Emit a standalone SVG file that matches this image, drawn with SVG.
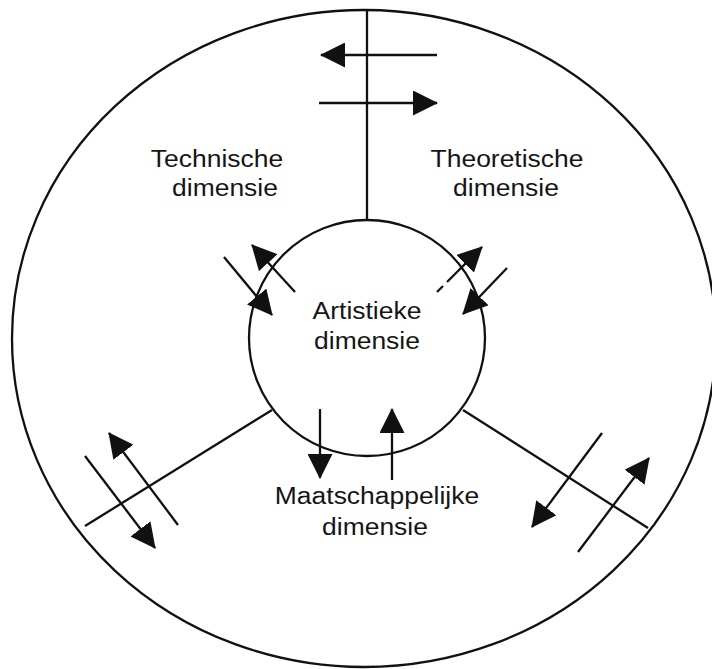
<svg xmlns="http://www.w3.org/2000/svg" width="712" height="669" viewBox="0 0 712 669">
<style>
.ln{stroke:#111;stroke-width:2.3;fill:none;stroke-linecap:butt}
.ar{stroke:#111;stroke-width:2.3;fill:none;marker-end:url(#ah)}
.lbl{font-family:"Liberation Sans",Arial,sans-serif;font-size:24.5px;fill:#151515;text-anchor:middle}
</style>
<defs>
<marker id="ah" viewBox="0 0 25 25" refX="24" refY="12.5" markerWidth="25" markerHeight="25" markerUnits="userSpaceOnUse" orient="auto">
<path d="M0,0 L25,12.5 L0,25 z" fill="#111"/>
</marker>
</defs>
<rect width="712" height="669" fill="#fff"/>
<g id="outer">
<ellipse cx="364" cy="338.5" rx="352" ry="328.5" class="ln" stroke-width="2.6"/>
</g>
<g id="artistieke">
<circle cx="367" cy="338" r="118" class="ln"/>
<text class="lbl" transform="translate(367 319) scale(1.08 1)">Artistieke</text>
<text class="lbl" transform="translate(367 349) scale(1.08 1)">dimensie</text>
</g>
<g id="technische">
<text class="lbl" transform="translate(217 167) scale(1.08 1)">Technische</text>
<text class="lbl" transform="translate(225 196) scale(1.08 1)">dimensie</text>
</g>
<g id="theoretische">
<text class="lbl" transform="translate(507 167) scale(1.08 1)">Theoretische</text>
<text class="lbl" transform="translate(506 196) scale(1.08 1)">dimensie</text>
</g>
<g id="maatschappelijke">
<text class="lbl" transform="translate(377 504) scale(1.08 1)">Maatschappelijke</text>
<text class="lbl" transform="translate(375 535) scale(1.08 1)">dimensie</text>
</g>
<g id="connectors">
<line class="ln" x1="367" y1="10" x2="367" y2="220"/>
<line class="ln" x1="272" y1="410" x2="85" y2="526"/>
<line class="ln" x1="463" y1="410" x2="648" y2="528"/>
<line class="ar" x1="437" y1="55" x2="321" y2="55"/>
<line class="ar" x1="319" y1="103" x2="437" y2="103"/>
<line class="ar" x1="295" y1="292" x2="252" y2="245"/>
<line class="ar" x1="224" y1="257" x2="272" y2="315"/>
<line class="ln" x1="437" y1="292" x2="443" y2="286"/>
<line class="ar" x1="447" y1="282" x2="482" y2="247"/>
<line class="ar" x1="507" y1="268" x2="463" y2="314"/>
<line class="ar" x1="320" y1="409" x2="320" y2="478"/>
<line class="ar" x1="392" y1="480" x2="392" y2="409"/>
<line class="ar" x1="178" y1="525" x2="109" y2="433"/>
<line class="ar" x1="85" y1="456" x2="155" y2="548"/>
<line class="ar" x1="602" y1="433" x2="532" y2="527"/>
<line class="ar" x1="578" y1="552" x2="649" y2="458"/>
</g>
</svg>
